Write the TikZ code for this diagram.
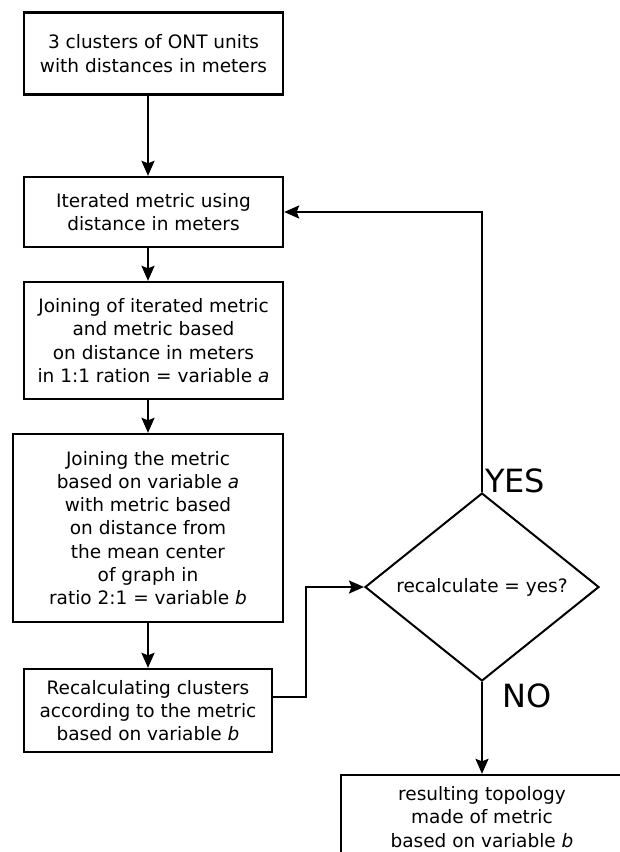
\documentclass[tikz,border=0pt]{standalone}
\usepackage{fontspec}
\setmainfont{DejaVu Sans}
\usetikzlibrary{shapes.geometric,arrows.meta}
\tikzset{arr/.style={line width=2pt, -{Stealth[length=15pt,width=13pt,inset=2.5pt]}}}
\begin{document}
\begin{tikzpicture}[x=1pt,y=-1pt,
  box/.style={draw, line width=2.3pt, align=center, inner sep=0pt, font=\fontsize{18.5}{23.3}\selectfont},
  lbl/.style={font=\fontsize{32}{36}\selectfont, inner sep=0pt}]
\useasboundingbox (0,0) rectangle (620,852);
\node[box, minimum width=259pt, minimum height=82pt] (b1) at (153.5,53.5) {3 clusters of ONT units\\with distances in meters};
\node[box, minimum width=259pt, minimum height=70pt] (b2) at (153.5,212) {Iterated metric using\\distance in meters};
\node[box, minimum width=259pt, minimum height=117pt] (b3) at (153.5,340.5) {Joining of iterated metric\\and metric based\\on distance in meters\\in 1:1 ration = variable \textit{a}};
\node[box, minimum width=270pt, minimum height=188pt] (b4) at (148,528) {Joining the metric\\based on variable \textit{a}\\with metric based\\on distance from\\the mean center\\of graph in\\ratio 2:1 = variable \textit{b}};
\node[box, minimum width=248pt, minimum height=83pt] (b5) at (148,710.5) {Recalculating clusters\\according to the metric\\based on variable \textit{b}};
\node[draw, diamond, line width=2pt, aspect=1.245, minimum width=234pt, minimum height=188pt, inner sep=0pt, font=\fontsize{18.5}{23.3}\selectfont] (d) at (482,587) {recalculate = yes?};
\node[box, minimum width=282pt, minimum height=84pt] (b6) at (482,817) {resulting topology\\made of metric\\based on variable \textit{b}};
\node[lbl, anchor=base west] (yes) at ([xshift=3pt]d.north) {YES};
\node[lbl, anchor=base west] (no) at ([xshift=20pt,yshift=-25pt]d.south) {NO};
\coordinate (cx) at (148,0);
\coordinate (y697) at (0,697);
\coordinate (bend) at (306,0);
\draw[arr] (cx |- b1.south) -- (cx |- b2.north);
\draw[arr] (cx |- b2.south) -- (cx |- b3.north);
\draw[arr] (cx |- b3.south) -- (cx |- b4.north);
\draw[arr] (cx |- b4.south) -- (cx |- b5.north);
\draw[arr] (b5.east |- y697) -| (bend |- d.west) -- (d.west);
\draw[arr] (d.north) |- (b2.east);
\draw[arr] (d.south) -- (b6.north);
\end{tikzpicture}
\end{document}
